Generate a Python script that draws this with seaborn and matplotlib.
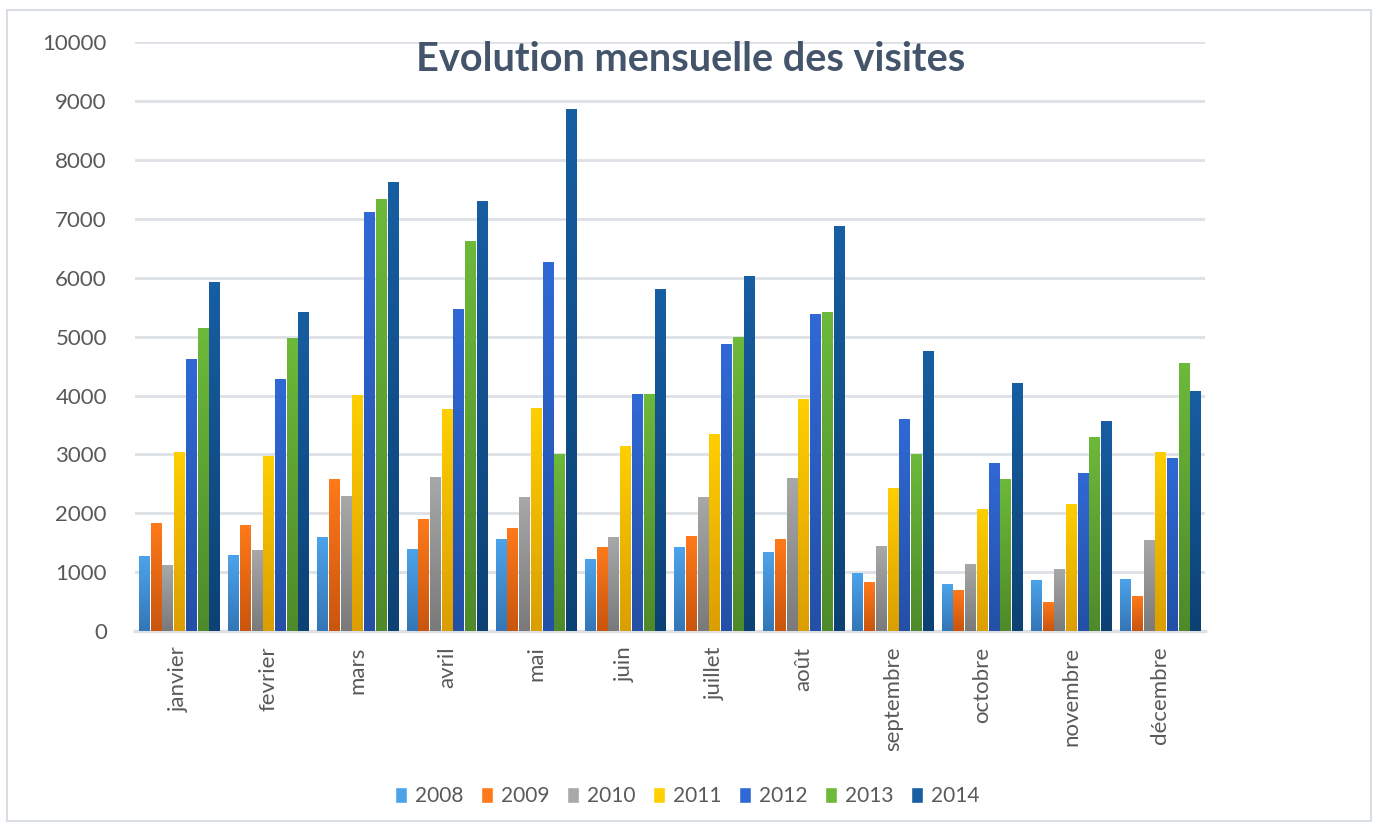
import numpy as np
import pandas as pd
import matplotlib
matplotlib.use("Agg")
import matplotlib.pyplot as plt
from matplotlib.patches import Patch, Rectangle
from matplotlib.colors import LinearSegmentedColormap
import seaborn as sns

mois = ["janvier", "fevrier", "mars", "avril", "mai", "juin", "juillet",
        "août", "septembre", "octobre", "novembre", "décembre"]
annees = ["2008", "2009", "2010", "2011", "2012", "2013", "2014"]

v2008 = [1270, 1290, 1600, 1400, 1570, 1220, 1430, 1340, 980, 800, 870, 890]
v2009 = [1840, 1810, 2590, 1910, 1750, 1430, 1610, 1560, 830, 700, 500, 590]
v2010 = [1120, 1370, 2300, 2610, 2280, 1600, 2280, 2600, 1440, 1140, 1060, 1540]
v2011 = [3040, 2970, 4010, 3770, 3790, 3140, 3340, 3940, 2430, 2070, 2150, 3040]
v2012 = [4620, 4280, 7110, 5470, 6260, 4030, 4880, 5380, 3600, 2860, 2690, 2940]
v2013 = [5140, 4980, 7330, 6620, 3000, 4030, 5000, 5420, 3000, 2590, 3300, 4550]
v2014 = [5930, 5420, 7630, 7310, 8870, 5800, 6030, 6880, 4760, 4210, 3560, 4080]
series = [v2008, v2009, v2010, v2011, v2012, v2013, v2014]

# couleurs haut / bas du dégradé
haut = ["#4DA3EA", "#FF7A1A", "#A8A8A8", "#FFCF00", "#3069D6", "#6DB93A", "#175EA2"]
bas = ["#3476B6", "#C9550E", "#7A7A7A", "#DB9E00", "#2350A6", "#4E8A2A", "#0C4174"]

df = pd.DataFrame({
    "mois": np.repeat([mois], len(annees), axis=0).ravel(),
    "annee": np.repeat(annees, len(mois)),
    "visites": np.concatenate(series),
})

sns.set_style("white")
plt.rcParams["font.family"] = ["Lato", "DejaVu Sans"]

fig = plt.figure(figsize=(13.74, 8.25), dpi=100)
ax = fig.add_axes([0.098, 0.235, 0.779, 0.714])

sns.barplot(data=df, x="mois", y="visites", hue="annee", order=mois,
            hue_order=annees, palette=haut, width=0.92, gap=0.12,
            legend=False, ax=ax, zorder=3)

# dégradé vertical dans chaque barre
grad = np.linspace(0, 1, 100).reshape(-1, 1)
for i, cont in enumerate(ax.containers):
    cmap = LinearSegmentedColormap.from_list("g%d" % i, [bas[i], haut[i]])
    for p in cont.patches:
        x0, y0 = p.get_x(), p.get_y()
        w, h = p.get_width(), p.get_height()
        im = ax.imshow(grad, extent=[x0, x0 + w, y0, y0 + h], origin="lower",
                       cmap=cmap, aspect="auto", zorder=4, interpolation="bilinear")
        im.set_clip_path(p)
        p.set_edgecolor("none")

ax.set_xlim(-0.5, 11.5)
ax.set_ylim(0, 10000)

ax.set_yticks(np.arange(0, 10001, 1000))
ax.yaxis.grid(True, color="#DDE1E6", linewidth=2, zorder=0)
ax.xaxis.grid(False)
for s in ["top", "right", "left"]:
    ax.spines[s].set_visible(False)
ax.spines["bottom"].set_color("#DDE1E6")
ax.spines["bottom"].set_linewidth(2.5)
ax.tick_params(axis="both", length=0, labelsize=16, labelcolor="#595959")
ax.tick_params(axis="y", pad=20)
plt.setp(ax.get_xticklabels(), rotation=90, va="top", ha="center")
ax.tick_params(axis="x", pad=11)
ax.set_xlabel("")
ax.set_ylabel("")

fig.text(0.503, 0.928, "Evolution mensuelle des visites", ha="center", va="center",
         fontsize=28.5, fontweight="bold", color="#44546A")

handles = [Patch(facecolor=c) for c in haut]
fig.legend(handles, annees, loc="center", bbox_to_anchor=(0.5, 0.035), ncol=7,
           frameon=False, fontsize=15, labelcolor="#595959", handlelength=0.6,
           handleheight=0.85, handletextpad=0.35, columnspacing=0.85)

fig.patches.append(Rectangle((0.005, 0.005), 0.993, 0.983, transform=fig.transFigure,
                             fill=False, edgecolor="#D9DEE4", linewidth=1.5))

fig.savefig("out.png", dpi=100)
